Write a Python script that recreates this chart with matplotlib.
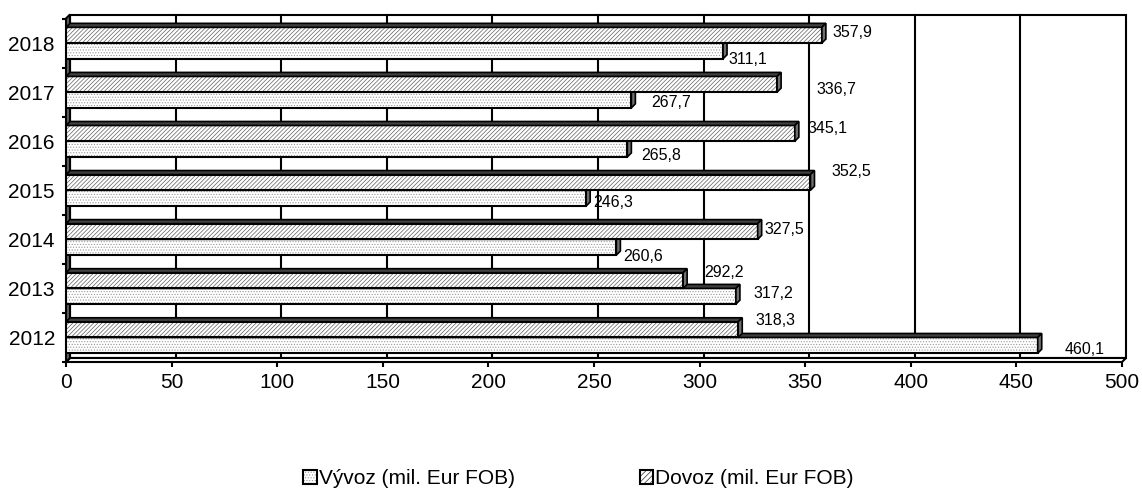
import matplotlib
matplotlib.use('Agg')
import matplotlib.pyplot as plt
from matplotlib.patches import Polygon, Rectangle, Patch
import numpy as np

plt.rcParams['font.family'] = ['Liberation Sans', 'DejaVu Sans']
plt.rcParams['hatch.linewidth'] = 0.5

# data (2012 at the bottom)
years = ['2012', '2013', '2014', '2015', '2016', '2017', '2018']
vyvoz = [460.1, 317.2, 260.6, 246.3, 265.8, 267.7, 311.1]
dovoz = [318.3, 292.2, 327.5, 352.5, 345.1, 336.7, 357.9]
series_names = ['Vývoz (mil. Eur FOB)', 'Dovoz (mil. Eur FOB)']
xticks = list(range(0, 501, 50))

# label nudges in pixels from the end of each bar (Excel put them a bit randomly)
vyvoz_nudge = [(27, -4), (18, 3), (7, -9), (7, -4), (14, -6), (20, -3), (5, -9)]
dovoz_nudge = [(17, 9), (21, 8), (7, 2), (21, 11), (13, 5), (39, -5), (11, 3)]

W, H = 1142, 488
fig = plt.figure(figsize=(W / 100, H / 100), dpi=100)
ax = fig.add_axes([66 / W, 1 - 362 / H, (1122 - 66) / W, (362 - 18.5) / H])
xmax = 500
ax.set_xlim(0, xmax)
ax.set_ylim(-0.5, len(years) - 0.5)
for s in ax.spines.values():
    s.set_visible(False)

# 3d depth of 4 px, in data units
pos = ax.get_position()
dx = 4 * xmax / (pos.width * W)
dy = 4 * len(years) / (pos.height * H)
ytop = len(years) - 0.5
lw = 1.5

# walls and floor
ax.add_patch(Rectangle((dx, -0.5 + dy), xmax, len(years), fc='white', ec='black', lw=lw, zorder=0, clip_on=False))
for v in xticks[1:-1]:
    ax.plot([v + dx, v + dx], [-0.5 + dy, ytop + dy], color='black', lw=lw, zorder=1, clip_on=False)
ax.add_patch(Polygon([(0, -0.5), (xmax, -0.5), (xmax + dx, -0.5 + dy), (dx, -0.5 + dy)],
                     fc='white', ec='black', lw=lw, zorder=1, clip_on=False))
ax.add_patch(Polygon([(0, -0.5), (dx, -0.5 + dy), (dx, ytop + dy), (0, ytop)],
                     fc='#606060', ec='black', lw=lw, zorder=2, clip_on=False))

h = 0.32


def bar3d(y0, v, hatch, hcol, z):
    ax.add_patch(Rectangle((0, y0), v, h, fc='white', ec=hcol, lw=0, hatch=hatch, zorder=z))
    ax.add_patch(Rectangle((0, y0), v, h, fill=False, ec='black', lw=lw, zorder=z + 0.1))
    ax.add_patch(Polygon([(0, y0 + h), (v, y0 + h), (v + dx, y0 + h + dy), (dx, y0 + h + dy)],
                         fc='#404040', ec='black', lw=1.2, zorder=z + 0.1))
    ax.add_patch(Polygon([(v, y0), (v + dx, y0 + dy), (v + dx, y0 + h + dy), (v, y0 + h)],
                         fc='#707070', ec='black', lw=1.2, zorder=z + 0.1, clip_on=False))


for i in range(len(years)):
    bar3d(i - h, vyvoz[i], '......', '#9a9a9a', 3 + i)
    bar3d(i, dovoz[i], '////////', '#606060', 3.5 + i)
    ax.annotate(f'{vyvoz[i]:.1f}'.replace('.', ','), xy=(vyvoz[i], i - h / 2), xytext=vyvoz_nudge[i],
                textcoords='offset pixels', ha='left', va='center', fontsize=11.5, zorder=20, annotation_clip=False)
    ax.annotate(f'{dovoz[i]:.1f}'.replace('.', ','), xy=(dovoz[i], i + h / 2), xytext=dovoz_nudge[i],
                textcoords='offset pixels', ha='left', va='center', fontsize=11.5, zorder=20, annotation_clip=False)

ax.set_xticks(xticks)
ax.tick_params(axis='x', length=3.6, width=lw, pad=4, labelsize=15)
ax.set_yticks(range(len(years)), years)
ax.tick_params(axis='y', which='major', length=0, pad=8, labelsize=15)
ax.set_yticks(np.arange(-0.5, len(years), 1), minor=True)
ax.tick_params(axis='y', which='minor', length=3, width=lw)

handles = [
    (Patch(fc='white', ec='#9a9a9a', lw=0, hatch='......'), Patch(fill=False, ec='black', lw=lw)),
    (Patch(fc='white', ec='#303030', lw=0, hatch='//////'), Patch(fill=False, ec='black', lw=lw)),
]
fig.legend(handles, series_names, loc='center left', bbox_to_anchor=(303 / W, 1 - 479 / H), ncol=2,
           frameon=False, fontsize=15, handlelength=0.65, handleheight=0.62, handletextpad=0.1,
           columnspacing=6, borderpad=0, borderaxespad=0)

fig.savefig('out.png', dpi=100)
